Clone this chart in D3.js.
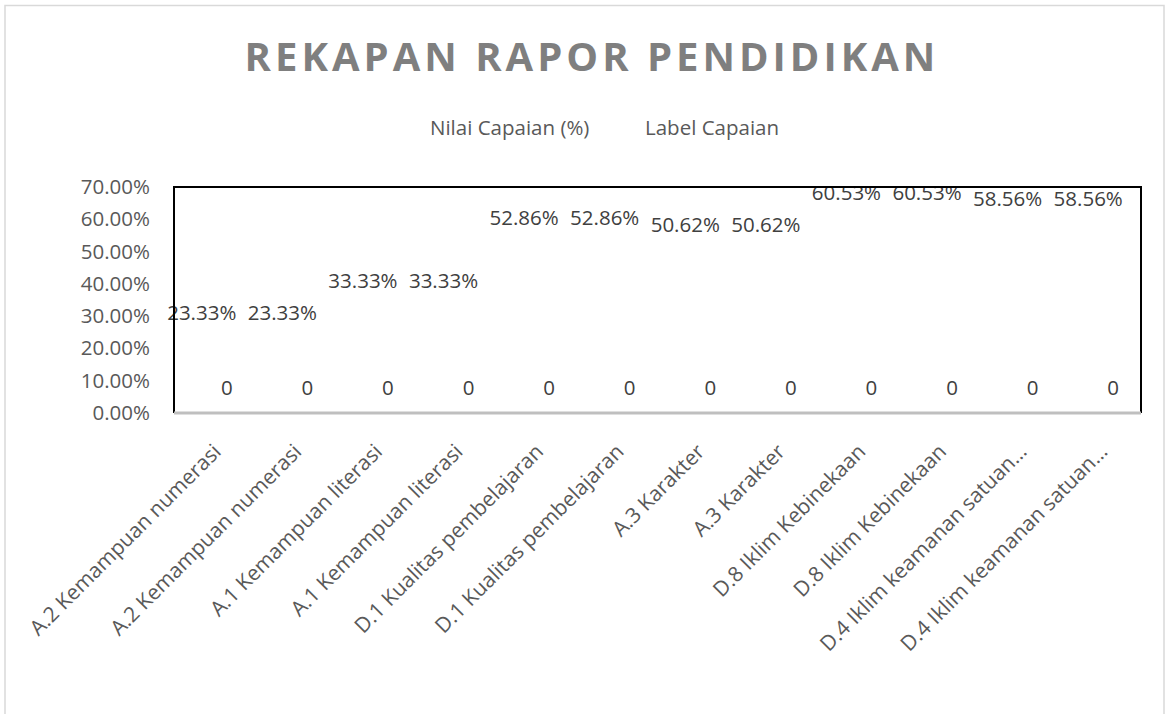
<!DOCTYPE html>
<html>
<head>
<meta charset="utf-8">
<script src="https://cdn.jsdelivr.net/npm/d3@7"></script>
<style>
  html, body { margin: 0; padding: 0; background: #ffffff; }
  svg { display: block; }
</style>
</head>
<body>
<div id="chart"></div>
<script>
// ---- data ----
const categories = [
  "A.2 Kemampuan numerasi", "A.2 Kemampuan numerasi",
  "A.1 Kemampuan literasi", "A.1 Kemampuan literasi",
  "D.1 Kualitas pembelajaran", "D.1 Kualitas pembelajaran",
  "A.3 Karakter", "A.3 Karakter",
  "D.8 Iklim Kebinekaan", "D.8 Iklim Kebinekaan",
  "D.4 Iklim keamanan satuan…", "D.4 Iklim keamanan satuan…"
];
const seriesNames = ["Nilai Capaian (%)", "Label Capaian"];
const nilaiCapaian = [0.2333, 0.2333, 0.3333, 0.3333, 0.5286, 0.5286, 0.5062, 0.5062, 0.6053, 0.6053, 0.5856, 0.5856];
const labelCapaian = [0, 0, 0, 0, 0, 0, 0, 0, 0, 0, 0, 0];
const yTicks = [0, 0.1, 0.2, 0.3, 0.4, 0.5, 0.6, 0.7];
const titleText = "REKAPAN RAPOR PENDIDIKAN";

// ---- layout ----
const W = 1172, H = 714;
const plot = { left: 174, right: 1141, top: 187, bottom: 413 };
const FONT = "'Open Sans', 'DejaVu Sans', sans-serif";

const svg = d3.select("#chart").append("svg")
  .attr("width", W).attr("height", H)
  .style("font-family", FONT);

svg.append("rect").attr("x", 0).attr("y", 0).attr("width", W).attr("height", H).attr("fill", "#fff");
svg.append("rect").attr("x", 5).attr("y", 5.5).attr("width", 1159).attr("height", 740)
  .attr("fill", "none").attr("stroke", "#d9d9d9").attr("stroke-width", 1.5);

// title
svg.append("text")
  .attr("x", 592).attr("y", 71)
  .attr("text-anchor", "middle")
  .attr("font-size", 40).attr("font-weight", 700)
  .attr("letter-spacing", 4)
  .attr("fill", "#7f7f7f")
  .text(titleText);

// legend (series have no visible fill)
const legendX = [430, 645];
svg.append("g").selectAll("text").data(seriesNames).join("text")
  .attr("x", (d, i) => legendX[i]).attr("y", 135)
  .attr("font-size", 20.5).attr("fill", "#595959")
  .text(d => d);

// scales
const idx = d3.range(categories.length);
const x = d3.scaleBand().domain(idx).range([plot.left, plot.right]);
const x1 = d3.scaleBand().domain([0, 1])
  .range([x.bandwidth() / 2 - 25, x.bandwidth() / 2 + 25]);
const y = d3.scaleLinear().domain([0, 0.7]).range([plot.bottom, plot.top]);

// y axis
const yAxis = svg.append("g").attr("transform", `translate(${plot.left},0)`)
  .call(d3.axisLeft(y).tickValues(yTicks).tickFormat(d3.format(".2%")).tickSize(0).tickPadding(24));
yAxis.select(".domain").remove();
yAxis.selectAll("text").attr("font-size", 20.5).attr("fill", "#595959").style("font-family", FONT);

// x axis
const xAxis = svg.append("g").attr("transform", `translate(0,${plot.bottom})`)
  .call(d3.axisBottom(x).tickFormat(i => categories[i]).tickSize(0));
xAxis.select(".domain").remove();
xAxis.selectAll("text")
  .attr("y", null).attr("dy", null)
  .attr("text-anchor", "end")
  .attr("transform", "translate(8,40) rotate(-45)")
  .attr("font-size", 21).attr("fill", "#595959").style("font-family", FONT);

// bars (no fill, like the reference)
const series = [nilaiCapaian, labelCapaian];
const fmts = [d3.format(".2%"), d3.format("d")];
series.forEach((vals, s) => {
  const g = svg.append("g");
  g.selectAll("rect").data(vals).join("rect")
    .attr("x", (d, i) => x(i) + x1(s))
    .attr("width", x1.bandwidth())
    .attr("y", d => y(d))
    .attr("height", d => y(0) - y(d))
    .attr("fill", "none");
  g.selectAll("text").data(vals).join("text")
    .attr("x", (d, i) => x(i) + x1(s) + x1.bandwidth() / 2)
    .attr("y", d => y(d) - 25)
    .attr("dy", "0.35em")
    .attr("text-anchor", "middle")
    .attr("font-size", 20.5).attr("fill", "#404040")
    .text(d => fmts[s](d));
});

// plot frame: black left/top/right, grey bottom axis
svg.append("path")
  .attr("d", `M${plot.left},${plot.bottom} V${plot.top} H${plot.right} V${plot.bottom}`)
  .attr("fill", "none").attr("stroke", "#000").attr("stroke-width", 2);
svg.append("line")
  .attr("x1", plot.left).attr("x2", plot.right)
  .attr("y1", plot.bottom).attr("y2", plot.bottom)
  .attr("stroke", "#bfbfbf").attr("stroke-width", 3);
</script>
</body>
</html>
